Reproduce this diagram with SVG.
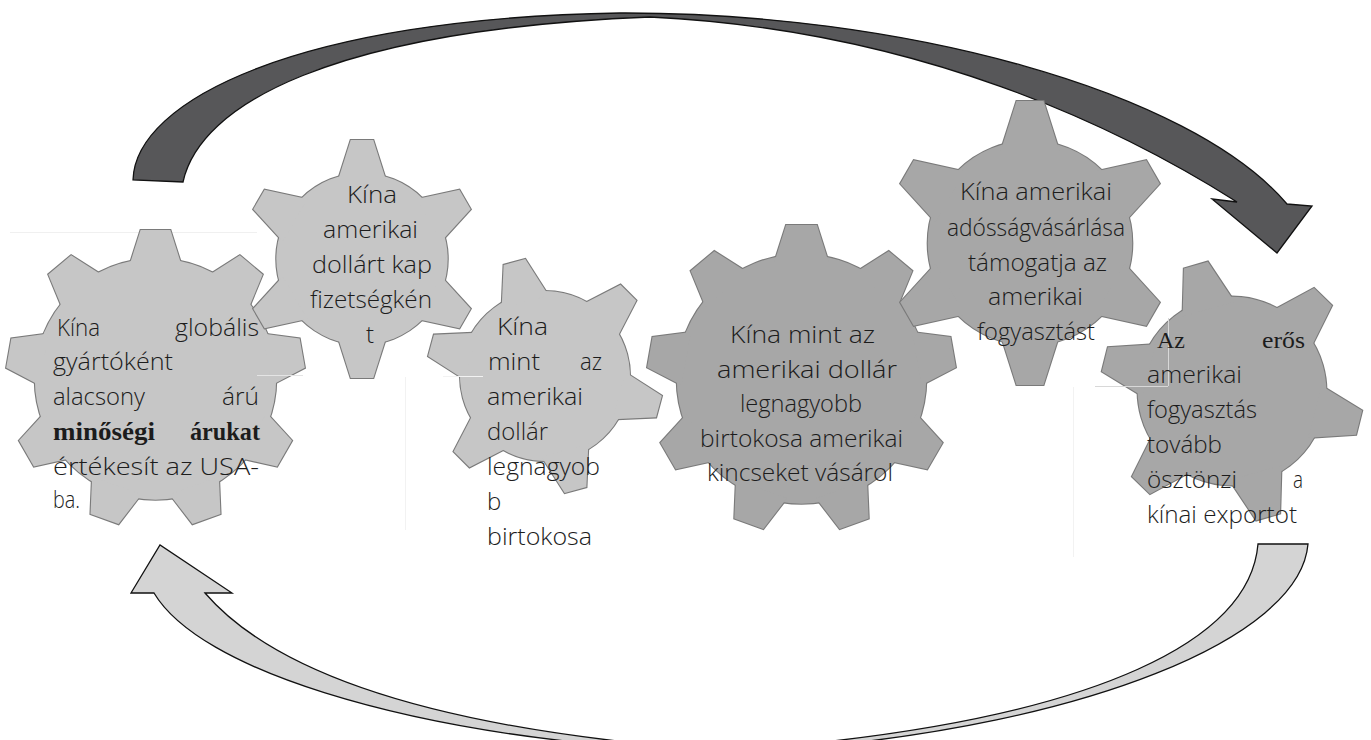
<svg xmlns="http://www.w3.org/2000/svg" xmlns:xlink="http://www.w3.org/1999/xlink" width="1371" height="740" viewBox="0 0 1371 740">
<defs>
<style>
.t{font-family:"Open Sans","Liberation Sans",sans-serif;font-weight:300;font-size:24px;fill:#1c1c1c}
.sb{font-family:"Liberation Serif","DejaVu Serif",serif;font-weight:bold;font-size:25px;fill:#1c1c1c}
.s{font-family:"Liberation Serif","DejaVu Serif",serif;font-size:23px;fill:#1c1c1c}
.edge{stroke:#7a7a7a;stroke-width:2.2}
.lightg{fill:#c6c6c6}
.darkg{fill:#a7a7a7}
.arrowDark{fill:#575759;stroke:#111;stroke-width:1.3}
.arrowLight{fill:#d4d4d4;stroke:#111;stroke-width:1.3}
</style>
<g id="g9">
<circle r="81" vector-effect="non-scaling-stroke"/>
<polygon points="-17.6,-76 -10,-100 10,-100 17.6,-76" vector-effect="non-scaling-stroke"/>
<polygon points="-17.6,-76 -10,-100 10,-100 17.6,-76" transform="rotate(40)" vector-effect="non-scaling-stroke"/>
<polygon points="-17.6,-76 -10,-100 10,-100 17.6,-76" transform="rotate(80)" vector-effect="non-scaling-stroke"/>
<polygon points="-17.6,-76 -10,-100 10,-100 17.6,-76" transform="rotate(120)" vector-effect="non-scaling-stroke"/>
<polygon points="-17.6,-76 -10,-100 10,-100 17.6,-76" transform="rotate(160)" vector-effect="non-scaling-stroke"/>
<polygon points="-17.6,-76 -10,-100 10,-100 17.6,-76" transform="rotate(200)" vector-effect="non-scaling-stroke"/>
<polygon points="-17.6,-76 -10,-100 10,-100 17.6,-76" transform="rotate(240)" vector-effect="non-scaling-stroke"/>
<polygon points="-17.6,-76 -10,-100 10,-100 17.6,-76" transform="rotate(280)" vector-effect="non-scaling-stroke"/>
<polygon points="-17.6,-76 -10,-100 10,-100 17.6,-76" transform="rotate(320)" vector-effect="non-scaling-stroke"/>
</g>
<g id="g6">
<circle r="72" vector-effect="non-scaling-stroke"/>
<polygon points="-20.6,-65 -9.5,-100 9.5,-100 20.6,-65" vector-effect="non-scaling-stroke"/>
<polygon points="-20.6,-65 -9.5,-100 9.5,-100 20.6,-65" transform="rotate(60)" vector-effect="non-scaling-stroke"/>
<polygon points="-20.6,-65 -9.5,-100 9.5,-100 20.6,-65" transform="rotate(120)" vector-effect="non-scaling-stroke"/>
<polygon points="-20.6,-65 -9.5,-100 9.5,-100 20.6,-65" transform="rotate(180)" vector-effect="non-scaling-stroke"/>
<polygon points="-20.6,-65 -9.5,-100 9.5,-100 20.6,-65" transform="rotate(240)" vector-effect="non-scaling-stroke"/>
<polygon points="-20.6,-65 -9.5,-100 9.5,-100 20.6,-65" transform="rotate(300)" vector-effect="non-scaling-stroke"/>
</g>
</defs>
<rect width="1371" height="740" fill="#ffffff"/>

<g id="connectors">
<path id="arrow-top" class="arrowDark" d="M133,180 C135,100 300,18 620,13 C900,12 1190,90 1287,204 L1312,206 L1277,253 L1212,199 L1237,202 C1120,128 920,30 650,17 C330,30 200,105 183,182 Z"/>
<path id="arrow-bottom" class="arrowLight" d="M1258,544 L1308,544 C1300,640 1080,725 800,748 L640,748 C400,730 200,670 154,593 L131,593 L160,545 L232,593 L205,593 C280,680 450,725 655,745 L795,745 C1100,715 1250,640 1258,544 Z"/>
</g>

<g id="artifacts" fill="none" stroke-width="1">
<path d="M10,232.5H257" stroke="#f0f0f0"/>
<path d="M405.5,377V530 M1073.5,387V557" stroke="#f2f2f2"/>
</g>

<g id="gear1">
<g transform="translate(155.5,379) scale(1.49)">
<use href="#g9" class="edge lightg"/>
<use href="#g9" class="lightg" stroke="none"/>
</g>
<path d="M257,375.5H303" stroke="#e4e4e4" stroke-width="1"/>
<text class="t" x="57" y="336" textLength="43" lengthAdjust="spacingAndGlyphs">Kína</text>
<text class="t" x="175" y="336" textLength="84" lengthAdjust="spacingAndGlyphs">globális</text>
<text class="t" x="53" y="370" textLength="120" lengthAdjust="spacingAndGlyphs">gyártóként</text>
<text class="t" x="53" y="405" textLength="92" lengthAdjust="spacingAndGlyphs">alacsony</text>
<text class="t" x="222" y="405" textLength="37" lengthAdjust="spacingAndGlyphs">árú</text>
<text class="sb" x="53" y="440" textLength="102" lengthAdjust="spacingAndGlyphs">minőségi</text>
<text class="sb" x="190" y="440" textLength="70" lengthAdjust="spacingAndGlyphs">árukat</text>
<text class="t" x="53" y="475" textLength="206" lengthAdjust="spacingAndGlyphs">értékesít az USA-</text>
<text class="t" x="53" y="508" textLength="27" lengthAdjust="spacingAndGlyphs">ba.</text>
</g>

<g id="gear2">
<g transform="translate(362,259) scale(1.19)">
<use href="#g6" class="edge lightg"/>
<use href="#g6" class="lightg" stroke="none"/>
</g>
<text class="t" x="347" y="203" textLength="50" lengthAdjust="spacingAndGlyphs">Kína</text>
<text class="t" x="323" y="238" textLength="95" lengthAdjust="spacingAndGlyphs">amerikai</text>
<text class="t" x="312" y="273" textLength="120" lengthAdjust="spacingAndGlyphs">dollárt kap</text>
<text class="t" x="310" y="308" textLength="122" lengthAdjust="spacingAndGlyphs">fizetségkén</text>
<text class="t" x="366" y="343">t</text>
</g>

<g id="gear3">
<g transform="translate(545,376) scale(1.18) rotate(-15)">
<use href="#g6" class="edge lightg"/>
<use href="#g6" class="lightg" stroke="none"/>
</g>
<path d="M443,376.5H483" stroke="#f2f2f2" stroke-width="1.2"/>
<text class="t" x="497" y="335" textLength="51" lengthAdjust="spacingAndGlyphs">Kína</text>
<text class="t" x="488" y="370" textLength="52" lengthAdjust="spacingAndGlyphs">mint</text>
<text class="t" x="580" y="370" textLength="22" lengthAdjust="spacingAndGlyphs">az</text>
<text class="t" x="487" y="405" textLength="96" lengthAdjust="spacingAndGlyphs">amerikai</text>
<text class="t" x="487" y="440" textLength="61" lengthAdjust="spacingAndGlyphs">dollár</text>
<text class="t" x="487" y="475" textLength="113" lengthAdjust="spacingAndGlyphs">legnagyob</text>
<text class="t" x="487" y="510">b</text>
<text class="t" x="487" y="545" textLength="105" lengthAdjust="spacingAndGlyphs">birtokosa</text>
</g>

<g id="gear4">
<g transform="translate(801.5,379) scale(1.54)">
<use href="#g9" class="edge darkg"/>
<use href="#g9" class="darkg" stroke="none"/>
</g>
<text class="t" x="730" y="343" textLength="145" lengthAdjust="spacingAndGlyphs">Kína mint az</text>
<text class="t" x="717" y="377.5" textLength="180" lengthAdjust="spacingAndGlyphs">amerikai dollár</text>
<text class="t" x="740" y="412" textLength="122" lengthAdjust="spacingAndGlyphs">legnagyobb</text>
<text class="t" x="700" y="446.5" textLength="203" lengthAdjust="spacingAndGlyphs">birtokosa amerikai</text>
<text class="t" x="707" y="481" textLength="186" lengthAdjust="spacingAndGlyphs">kincseket vásárol</text>
</g>

<g id="gear5">
<g transform="translate(1030,243) scale(1.42)">
<use href="#g6" class="edge darkg"/>
<use href="#g6" class="darkg" stroke="none"/>
</g>
<text class="t" x="960" y="200" textLength="152" lengthAdjust="spacingAndGlyphs">Kína amerikai</text>
<text class="t" x="947" y="236" textLength="178" lengthAdjust="spacingAndGlyphs">adósságvásárlása</text>
<text class="t" x="968" y="271" textLength="139" lengthAdjust="spacingAndGlyphs">támogatja az</text>
<text class="t" x="988" y="305" textLength="95" lengthAdjust="spacingAndGlyphs">amerikai</text>
<text class="t" x="977" y="340" textLength="118" lengthAdjust="spacingAndGlyphs">fogyasztást</text>
</g>

<g id="gear6">
<g transform="translate(1232,391) scale(1.31) rotate(-16)">
<use href="#g6" class="edge darkg"/>
<use href="#g6" class="darkg" stroke="none"/>
</g>
<path d="M1168.5,318V386 M1095,386.5H1168" fill="none" stroke="#d8d8d8" stroke-width="1"/>
<text class="s" x="1157" y="348" textLength="28" lengthAdjust="spacingAndGlyphs">Az</text>
<text class="s" x="1262" y="348" textLength="43" lengthAdjust="spacingAndGlyphs">erős</text>
<text class="t" x="1147" y="383" textLength="95" lengthAdjust="spacingAndGlyphs">amerikai</text>
<text class="t" x="1147" y="418" textLength="110" lengthAdjust="spacingAndGlyphs">fogyasztás</text>
<text class="t" x="1147" y="453" textLength="75" lengthAdjust="spacingAndGlyphs">tovább</text>
<text class="t" x="1147" y="488" textLength="90" lengthAdjust="spacingAndGlyphs">ösztönzi</text>
<text class="t" x="1293" y="488" textLength="10" lengthAdjust="spacingAndGlyphs">a</text>
<text class="t" x="1147" y="523" textLength="150" lengthAdjust="spacingAndGlyphs">kínai exportot</text>
</g>
</svg>
